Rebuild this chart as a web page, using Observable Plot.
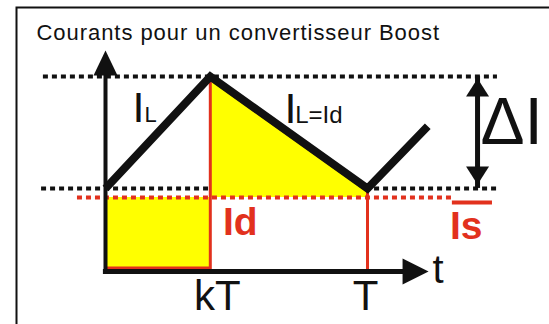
<!DOCTYPE html>
<html>
<head>
<meta charset="utf-8">
<script src="https://cdn.jsdelivr.net/npm/d3@7"></script>
<script src="https://cdn.jsdelivr.net/npm/@observablehq/plot@0.6"></script>
<style>
  html, body { margin: 0; padding: 0; background: #fff; }
  svg { display: block; }
</style>
</head>
<body>
<div id="chart"></div>
<script>
// ---- data (time in units of T, current in units of Imax) ----
const title = "Courants pour un convertisseur Boost";
const k = 0.4;           // duty cycle
const T = 1;             // period
const Imax = 1.0;
const Imin = 0.426;
const Is = 0.38;         // average output current
// inductor current waveform
const waveT = [0, 0.4, 1, 1.23];
const waveI = [0.426, 1.0, 0.426, 0.745];
// tick labels on the time axis
const tickLabels = ["kT", "T"];
const tickValues = [k, T];
const axisLabel = "t";
// annotation labels
const labelText = ["I", "L", "I", "L=Id", "Id", "Is", "ΔI"];
const labelT    = [0.103, 0.149, 0.683, 0.724, 0.448, 1.315, 1.431];
const labelI    = [0.769, 0.769, 0.764, 0.759, 0.185, 0.169, 0.656];

// ---- styles ----
const RED = "#e2311d";
const YELLOW = "#ffff00";
const FONT = "'Liberation Sans', Arial, Helvetica, sans-serif";
const labelStyle = [
  {size: 43, color: "#111", weight: "normal"},
  {size: 22, color: "#111", weight: "normal"},
  {size: 43, color: "#111", weight: "normal"},
  {size: 24, color: "#111", weight: "normal"},
  {size: 39, color: RED, weight: "bold"},
  {size: 39, color: RED, weight: "bold"},
  {size: 66, color: "#111", weight: "normal"}
];
const labels = labelText.map((s, i) => ({s, t: labelT[i], I: labelI[i], ...labelStyle[i]}));
const tickOffsets = [7, -2];

const xTip = 1.233, yTip = 1.133, xDelta = 1.42;
const head = (pts) => ({draw(ctx) { ctx.moveTo(pts[0][0], pts[0][1]); for (const p of pts.slice(1)) ctx.lineTo(p[0], p[1]); ctx.closePath(); }});
const headUp = head([[0, 0], [12, 25], [-12, 25]]);
const headRight = head([[0, 0], [-26, -13], [-26, 13]]);
const dUp = head([[0, 0], [11.5, 18], [-11.5, 18]]);
const dDown = head([[0, 0], [11.5, -18], [-11.5, -18]]);

const wave = waveT.map((t, i) => ({t, I: waveI[i]}));
const fall = wave.slice(1, 3);

const plot = Plot.plot({
  width: 549, height: 324,
  margin: 0, marginLeft: 0, marginRight: 0, marginTop: 0, marginBottom: 0,
  style: {fontFamily: FONT, background: "#fff", overflow: "hidden"},
  x: {domain: [-105 / 262, 444 / 262], axis: null},
  y: {domain: [-53 / 195, 271 / 195], axis: null},
  marks: [
    Plot.frame({stroke: "#111", strokeWidth: 2, insetLeft: 16, insetTop: 7, insetRight: -10, insetBottom: -10}),
    Plot.text([title], {frameAnchor: "top-left", dx: 36, dy: 39, lineAnchor: "bottom", textAnchor: "start", fontSize: 22, fill: "#111", text: d => d}),
    // black dotted lines at Imax and Imin
    Plot.ruleY([Imax], {x1: -0.237, x2: 1.496, stroke: "#111", strokeWidth: 4, strokeDasharray: "5,4"}),
    Plot.ruleY([Imin], {x1: -0.244, x2: 1.496, stroke: "#111", strokeWidth: 4, strokeDasharray: "5,4"}),
    // yellow areas
    Plot.areaY([{t: 0}, {t: k}], {x: "t", y1: 0, y2: Is, fill: YELLOW}),
    Plot.areaY(fall, {x: "t", y1: Is, y2: "I", fill: YELLOW}),
    // red outlines
    Plot.line(fall, {x: "t", y: "I", stroke: RED, strokeWidth: 1.5, dy: 3.5}),
    Plot.ruleY([0], {x1: 0, x2: k, stroke: RED, strokeWidth: 3, dy: -3.5}),
    Plot.ruleX([k], {y1: 0, y2: Imax, stroke: RED, strokeWidth: 3}),
    Plot.ruleX([T], {y1: 0, y2: Imin, stroke: RED, strokeWidth: 3}),
    // red dotted average line + overline of Is
    Plot.ruleY([Is], {x1: -0.107, x2: 1.324, stroke: RED, strokeWidth: 4, strokeDasharray: "5,4"}),
    Plot.ruleY([Is], {x1: 1.324, x2: 1.477, stroke: RED, strokeWidth: 4, dy: 5}),
    // axes
    Plot.ruleX([0], {y1: -0.01, y2: yTip - 0.06, stroke: "#111", strokeWidth: 4}),
    Plot.ruleY([0], {x1: -0.008, x2: xTip - 0.05, stroke: "#111", strokeWidth: 5}),
    Plot.dot([{t: 0, I: yTip}], {x: "t", y: "I", symbol: headUp, fill: "#111", stroke: "none"}),
    Plot.dot([{t: xTip, I: 0}], {x: "t", y: "I", symbol: headRight, fill: "#111", stroke: "none"}),
    // delta I arrow
    Plot.ruleX([xDelta], {y1: Imin, y2: Imax, stroke: "#111", strokeWidth: 5}),
    Plot.dot([{t: xDelta, I: Imax}], {x: "t", y: "I", symbol: dUp, fill: "#111", stroke: "none", dy: 2}),
    Plot.dot([{t: xDelta, I: Imin}], {x: "t", y: "I", symbol: dDown, fill: "#111", stroke: "none", dy: -4}),
    // inductor current
    Plot.line(wave, {x: "t", y: "I", stroke: "#111", strokeWidth: 8, strokeLinejoin: "miter", strokeLinecap: "butt", strokeMiterlimit: 10}),
    // tick labels
    ...tickValues.map((v, i) => Plot.text([v], {x: d => d, y: 0, text: () => tickLabels[i], dx: tickOffsets[i], dy: 38, lineAnchor: "bottom", textAnchor: "middle", fontSize: 42, fill: "#111"})),
    Plot.text([xTip], {x: d => d, y: 0, text: () => axisLabel, dx: 4, dy: 11, lineAnchor: "bottom", textAnchor: "start", fontSize: 40, fill: "#111"}),
    // annotations
    ...labels.map(l => Plot.text([l], {x: "t", y: "I", text: "s", lineAnchor: "bottom", textAnchor: "start", fontSize: l.size, fontWeight: l.weight, fill: l.color}))
  ]
});
document.getElementById("chart").appendChild(plot);
// letter spacing of the title
plot.querySelectorAll("text").forEach(t => {
  if (t.textContent === title) t.style.letterSpacing = "0.95px";
});
</script>
</body>
</html>
